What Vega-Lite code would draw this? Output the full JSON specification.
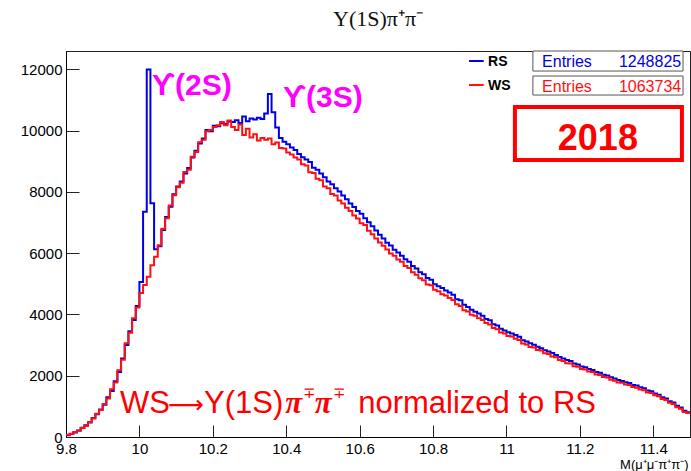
{
  "$schema": "https://vega.github.io/schema/vega-lite/v6.json",
  "width": 624,
  "height": 386,
  "autosize": {"type": "none"},
  "padding": {"left": 66, "top": 51, "right": 1, "bottom": 34},
  "background": "white",
  "config": {"view": {"stroke": "#222", "strokeWidth": 1}, "font": "Liberation Sans"},
  "title": {"text": "Υ(1S)π⁺π⁻", "font": "Liberation Serif", "fontSize": 22, "fontWeight": "normal", "color": "#111", "anchor": "middle", "baseline": "alphabetic", "offset": 3},
  "datasets": {
    "rs": [
      {"x":9.80,"y":60},{"x":9.81,"y":110},{"x":9.82,"y":150},{"x":9.83,"y":210},{"x":9.84,"y":300},{"x":9.85,"y":380},{"x":9.86,"y":470},{"x":9.87,"y":620},{"x":9.88,"y":740},{"x":9.89,"y":900},
      {"x":9.90,"y":1050},{"x":9.91,"y":1300},{"x":9.92,"y":1500},{"x":9.93,"y":1820},{"x":9.94,"y":2120},{"x":9.95,"y":2560},{"x":9.96,"y":3000},{"x":9.97,"y":3450},{"x":9.98,"y":3820},{"x":9.99,"y":4280},
      {"x":10.00,"y":5060},{"x":10.01,"y":7350},{"x":10.02,"y":12000},{"x":10.03,"y":7630},{"x":10.04,"y":6130},{"x":10.05,"y":6230},{"x":10.06,"y":6760},{"x":10.07,"y":7180},{"x":10.08,"y":7520},{"x":10.09,"y":7920},
      {"x":10.10,"y":8180},{"x":10.11,"y":8340},{"x":10.12,"y":8600},{"x":10.13,"y":8780},{"x":10.14,"y":9120},{"x":10.15,"y":9340},{"x":10.16,"y":9580},{"x":10.17,"y":9740},{"x":10.18,"y":10020},{"x":10.19,"y":9980},
      {"x":10.20,"y":10160},{"x":10.21,"y":10140},{"x":10.22,"y":10240},{"x":10.23,"y":10220},{"x":10.24,"y":10300},{"x":10.25,"y":10280},{"x":10.26,"y":10340},{"x":10.27,"y":10250},{"x":10.28,"y":10460},{"x":10.29,"y":10310},
      {"x":10.30,"y":10400},{"x":10.31,"y":10360},{"x":10.32,"y":10420},{"x":10.33,"y":10380},{"x":10.34,"y":10560},{"x":10.35,"y":11200},{"x":10.36,"y":10600},{"x":10.37,"y":10100},{"x":10.38,"y":9760},{"x":10.39,"y":9640},
      {"x":10.40,"y":9560},{"x":10.41,"y":9450},{"x":10.42,"y":9370},{"x":10.43,"y":9240},{"x":10.44,"y":9130},{"x":10.45,"y":9060},{"x":10.46,"y":8980},{"x":10.47,"y":8790},{"x":10.48,"y":8720},{"x":10.49,"y":8600},
      {"x":10.50,"y":8480},{"x":10.51,"y":8340},{"x":10.52,"y":8250},{"x":10.53,"y":8120},{"x":10.54,"y":8010},{"x":10.55,"y":7880},{"x":10.56,"y":7760},{"x":10.57,"y":7620},{"x":10.58,"y":7510},{"x":10.59,"y":7380},
      {"x":10.60,"y":7290},{"x":10.61,"y":7140},{"x":10.62,"y":7010},{"x":10.63,"y":6880},{"x":10.64,"y":6740},{"x":10.65,"y":6600},{"x":10.66,"y":6480},{"x":10.67,"y":6340},{"x":10.68,"y":6250},{"x":10.69,"y":6110},
      {"x":10.70,"y":6020},{"x":10.71,"y":5920},{"x":10.72,"y":5800},{"x":10.73,"y":5720},{"x":10.74,"y":5580},{"x":10.75,"y":5500},{"x":10.76,"y":5380},{"x":10.77,"y":5310},{"x":10.78,"y":5190},{"x":10.79,"y":5130},
      {"x":10.80,"y":4990},{"x":10.81,"y":4920},{"x":10.82,"y":4860},{"x":10.83,"y":4780},{"x":10.84,"y":4720},{"x":10.85,"y":4640},{"x":10.86,"y":4500},{"x":10.87,"y":4460},{"x":10.88,"y":4320},{"x":10.89,"y":4240},
      {"x":10.90,"y":4150},{"x":10.91,"y":4090},{"x":10.92,"y":4030},{"x":10.93,"y":3960},{"x":10.94,"y":3850},{"x":10.95,"y":3810},{"x":10.96,"y":3680},{"x":10.97,"y":3640},{"x":10.98,"y":3530},{"x":10.99,"y":3480},
      {"x":11.00,"y":3420},{"x":11.01,"y":3380},{"x":11.02,"y":3330},{"x":11.03,"y":3270},{"x":11.04,"y":3160},{"x":11.05,"y":3120},{"x":11.06,"y":3060},{"x":11.07,"y":3010},{"x":11.08,"y":2950},{"x":11.09,"y":2900},
      {"x":11.10,"y":2830},{"x":11.11,"y":2790},{"x":11.12,"y":2740},{"x":11.13,"y":2680},{"x":11.14,"y":2610},{"x":11.15,"y":2560},{"x":11.16,"y":2510},{"x":11.17,"y":2480},{"x":11.18,"y":2400},{"x":11.19,"y":2370},
      {"x":11.20,"y":2300},{"x":11.21,"y":2280},{"x":11.22,"y":2220},{"x":11.23,"y":2190},{"x":11.24,"y":2120},{"x":11.25,"y":2100},{"x":11.26,"y":2030},{"x":11.27,"y":2010},{"x":11.28,"y":1950},{"x":11.29,"y":1910},
      {"x":11.30,"y":1860},{"x":11.31,"y":1830},{"x":11.32,"y":1790},{"x":11.33,"y":1760},{"x":11.34,"y":1700},{"x":11.35,"y":1680},{"x":11.36,"y":1620},{"x":11.37,"y":1590},{"x":11.38,"y":1520},{"x":11.39,"y":1490},
      {"x":11.40,"y":1420},{"x":11.41,"y":1380},{"x":11.42,"y":1300},{"x":11.43,"y":1260},{"x":11.44,"y":1170},{"x":11.45,"y":1130},{"x":11.46,"y":1020},{"x":11.47,"y":960},{"x":11.48,"y":860},{"x":11.49,"y":810},
      {"x":11.50,"y":810}
    ],
    "ws": [
      {"x":9.80,"y":70},{"x":9.81,"y":100},{"x":9.82,"y":160},{"x":9.83,"y":200},{"x":9.84,"y":290},{"x":9.85,"y":360},{"x":9.86,"y":490},{"x":9.87,"y":600},{"x":9.88,"y":760},{"x":9.89,"y":880},
      {"x":9.90,"y":1080},{"x":9.91,"y":1260},{"x":9.92,"y":1560},{"x":9.93,"y":1780},{"x":9.94,"y":2180},{"x":9.95,"y":2520},{"x":9.96,"y":3060},{"x":9.97,"y":3400},{"x":9.98,"y":3880},{"x":9.99,"y":4230},
      {"x":10.00,"y":4700},{"x":10.01,"y":4960},{"x":10.02,"y":5230},{"x":10.03,"y":5610},{"x":10.04,"y":5880},{"x":10.05,"y":6260},{"x":10.06,"y":6800},{"x":10.07,"y":7140},{"x":10.08,"y":7560},{"x":10.09,"y":7890},
      {"x":10.10,"y":8150},{"x":10.11,"y":8300},{"x":10.12,"y":8650},{"x":10.13,"y":8720},{"x":10.14,"y":9150},{"x":10.15,"y":9300},{"x":10.16,"y":9620},{"x":10.17,"y":9700},{"x":10.18,"y":9980},{"x":10.19,"y":10020},
      {"x":10.20,"y":10120},{"x":10.21,"y":10180},{"x":10.22,"y":10280},{"x":10.23,"y":10180},{"x":10.24,"y":10330},{"x":10.25,"y":10120},{"x":10.26,"y":10020},{"x":10.27,"y":10200},{"x":10.28,"y":9860},{"x":10.29,"y":10060},
      {"x":10.30,"y":9780},{"x":10.31,"y":9880},{"x":10.32,"y":9680},{"x":10.33,"y":9760},{"x":10.34,"y":9700},{"x":10.35,"y":9740},{"x":10.36,"y":9560},{"x":10.37,"y":9610},{"x":10.38,"y":9430},{"x":10.39,"y":9420},
      {"x":10.40,"y":9290},{"x":10.41,"y":9220},{"x":10.42,"y":9120},{"x":10.43,"y":9060},{"x":10.44,"y":8900},{"x":10.45,"y":8860},{"x":10.46,"y":8640},{"x":10.47,"y":8620},{"x":10.48,"y":8430},{"x":10.49,"y":8380},
      {"x":10.50,"y":8180},{"x":10.51,"y":8120},{"x":10.52,"y":7930},{"x":10.53,"y":7880},{"x":10.54,"y":7720},{"x":10.55,"y":7620},{"x":10.56,"y":7480},{"x":10.57,"y":7380},{"x":10.58,"y":7230},{"x":10.59,"y":7130},
      {"x":10.60,"y":6980},{"x":10.61,"y":6920},{"x":10.62,"y":6730},{"x":10.63,"y":6620},{"x":10.64,"y":6480},{"x":10.65,"y":6350},{"x":10.66,"y":6240},{"x":10.67,"y":6120},{"x":10.68,"y":5990},{"x":10.69,"y":5920},
      {"x":10.70,"y":5790},{"x":10.71,"y":5720},{"x":10.72,"y":5580},{"x":10.73,"y":5520},{"x":10.74,"y":5380},{"x":10.75,"y":5300},{"x":10.76,"y":5180},{"x":10.77,"y":5120},{"x":10.78,"y":4980},{"x":10.79,"y":4950},
      {"x":10.80,"y":4810},{"x":10.81,"y":4760},{"x":10.82,"y":4660},{"x":10.83,"y":4620},{"x":10.84,"y":4540},{"x":10.85,"y":4470},{"x":10.86,"y":4330},{"x":10.87,"y":4280},{"x":10.88,"y":4140},{"x":10.89,"y":4100},
      {"x":10.90,"y":3990},{"x":10.91,"y":3960},{"x":10.92,"y":3880},{"x":10.93,"y":3820},{"x":10.94,"y":3720},{"x":10.95,"y":3670},{"x":10.96,"y":3560},{"x":10.97,"y":3520},{"x":10.98,"y":3410},{"x":10.99,"y":3380},
      {"x":11.00,"y":3300},{"x":11.01,"y":3280},{"x":11.02,"y":3210},{"x":11.03,"y":3170},{"x":11.04,"y":3050},{"x":11.05,"y":3020},{"x":11.06,"y":2940},{"x":11.07,"y":2920},{"x":11.08,"y":2840},{"x":11.09,"y":2820},
      {"x":11.10,"y":2730},{"x":11.11,"y":2710},{"x":11.12,"y":2630},{"x":11.13,"y":2600},{"x":11.14,"y":2510},{"x":11.15,"y":2480},{"x":11.16,"y":2410},{"x":11.17,"y":2400},{"x":11.18,"y":2310},{"x":11.19,"y":2290},
      {"x":11.20,"y":2220},{"x":11.21,"y":2200},{"x":11.22,"y":2140},{"x":11.23,"y":2120},{"x":11.24,"y":2040},{"x":11.25,"y":2020},{"x":11.26,"y":1960},{"x":11.27,"y":1940},{"x":11.28,"y":1870},{"x":11.29,"y":1840},
      {"x":11.30,"y":1780},{"x":11.31,"y":1770},{"x":11.32,"y":1710},{"x":11.33,"y":1700},{"x":11.34,"y":1630},{"x":11.35,"y":1610},{"x":11.36,"y":1550},{"x":11.37,"y":1530},{"x":11.38,"y":1450},{"x":11.39,"y":1440},
      {"x":11.40,"y":1360},{"x":11.41,"y":1330},{"x":11.42,"y":1240},{"x":11.43,"y":1210},{"x":11.44,"y":1120},{"x":11.45,"y":1080},{"x":11.46,"y":970},{"x":11.47,"y":920},{"x":11.48,"y":820},{"x":11.49,"y":780},
      {"x":11.50,"y":780}
    ]
  },
  "layer": [
    {
      "data": {"name": "rs"},
      "mark": {"type": "line", "interpolate": "step-after", "color": "#0000e6", "strokeWidth": 2},
      "encoding": {
        "x": {"field": "x", "type": "quantitative",
          "scale": {"domain": [9.8, 11.5], "nice": false, "zero": false},
          "axis": {
            "values": [9.8,9.85,9.9,9.95,10,10.05,10.1,10.15,10.2,10.25,10.3,10.35,10.4,10.45,10.5,10.55,10.6,10.65,10.7,10.75,10.8,10.85,10.9,10.95,11,11.05,11.1,11.15,11.2,11.25,11.3,11.35,11.4,11.45,11.5],
            "labelExpr": "abs(datum.value*5 - round(datum.value*5)) < 0.001 ? format(datum.value, '~g') : ''",
            "tickSize": {"condition": {"test": "abs(datum.value*5 - round(datum.value*5)) < 0.001", "value": -12}, "value": -6},
            "grid": false, "domainColor": "#000", "tickColor": "#222", "labelColor": "#000",
            "labelFontSize": 15, "labelPadding": 16, "labelOverlap": false, "labelFlush": false,
            "title": "M(μ⁺μ⁻π⁺π⁻)", "titleAnchor": "end", "titleAlign": "right", "titleX": 622, "titleFontSize": 13, "titleFontWeight": "normal",
            "titleColor": "#000", "titleBaseline": "alphabetic", "titleY": 31
          }
        },
        "y": {"field": "y", "type": "quantitative",
          "scale": {"domain": [0, 12600], "nice": false, "zero": true},
          "axis": {
            "values": [0,500,1000,1500,2000,2500,3000,3500,4000,4500,5000,5500,6000,6500,7000,7500,8000,8500,9000,9500,10000,10500,11000,11500,12000,12500],
            "labelExpr": "datum.value % 2000 === 0 ? format(datum.value, 'd') : ''",
            "tickSize": {"condition": {"test": "datum.value % 2000 === 0", "value": -13}, "value": -7},
            "grid": false, "domainColor": "#000", "tickColor": "#222", "labelColor": "#000",
            "labelFontSize": 15, "labelPadding": 17, "labelOverlap": false, "labelFlush": false,
            "title": null
          }
        }
      }
    },
    {
      "data": {"name": "ws"},
      "mark": {"type": "line", "interpolate": "step-after", "color": "#ff1010", "strokeWidth": 2},
      "encoding": {
        "x": {"field": "x", "type": "quantitative"},
        "y": {"field": "y", "type": "quantitative"}
      }
    },
    {
      "data": {"values": [{}]},
      "mark": {"type": "text", "align": "left", "baseline": "alphabetic", "font": "Liberation Sans", "fontWeight": "bold", "fontSize": 30, "color": "#ff00ff", "text": "ϒ(2S)"},
      "encoding": {"x": {"datum": 10.034, "type": "quantitative"}, "y": {"datum": 11163, "type": "quantitative"}}
    },
    {
      "data": {"values": [{}]},
      "mark": {"type": "text", "align": "left", "baseline": "alphabetic", "font": "Liberation Sans", "fontWeight": "bold", "fontSize": 30, "color": "#ff00ff", "text": "ϒ(3S)"},
      "encoding": {"x": {"datum": 10.391, "type": "quantitative"}, "y": {"datum": 10771, "type": "quantitative"}}
    },
    {
      "data": {"values": [{}]},
      "mark": {"type": "rect", "fill": "white", "stroke": "#ff0000", "strokeWidth": 4},
      "encoding": {"x": {"datum": 11.023, "type": "quantitative"}, "x2": {"datum": 11.478}, "y": {"datum": 10771, "type": "quantitative"}, "y2": {"datum": 9041}}
    },
    {
      "data": {"values": [{}]},
      "mark": {"type": "text", "align": "center", "baseline": "alphabetic", "font": "Liberation Sans", "fontWeight": "bold", "fontSize": 36, "color": "#ff0000", "text": "2018"},
      "encoding": {"x": {"datum": 11.249, "type": "quantitative"}, "y": {"datum": 9368, "type": "quantitative"}}
    },
    {
      "data": {"values": [{}]},
      "mark": {"type": "rule", "color": "#0000e6", "strokeWidth": 2},
      "encoding": {"x": {"datum": 10.898, "type": "quantitative"}, "x2": {"datum": 10.938}, "y": {"datum": 12273, "type": "quantitative"}}
    },
    {
      "data": {"values": [{}]},
      "mark": {"type": "rule", "color": "#ff1010", "strokeWidth": 2},
      "encoding": {"x": {"datum": 10.898, "type": "quantitative"}, "x2": {"datum": 10.938}, "y": {"datum": 11489, "type": "quantitative"}}
    },
    {
      "data": {"values": [{}]},
      "mark": {"type": "text", "align": "left", "baseline": "alphabetic", "font": "Liberation Sans", "fontWeight": "bold", "fontSize": 14, "color": "#000", "text": "RS"},
      "encoding": {"x": {"datum": 10.950, "type": "quantitative"}, "y": {"datum": 12109, "type": "quantitative"}}
    },
    {
      "data": {"values": [{}]},
      "mark": {"type": "text", "align": "left", "baseline": "alphabetic", "font": "Liberation Sans", "fontWeight": "bold", "fontSize": 14, "color": "#000", "text": "WS"},
      "encoding": {"x": {"datum": 10.950, "type": "quantitative"}, "y": {"datum": 11326, "type": "quantitative"}}
    },
    {
      "data": {"values": [{}]},
      "mark": {"type": "rect", "fill": "white", "stroke": "#555", "strokeWidth": 1},
      "encoding": {"x": {"datum": 11.072, "type": "quantitative"}, "x2": {"datum": 11.481}, "y": {"datum": 12600, "type": "quantitative"}, "y2": {"datum": 11946}}
    },
    {
      "data": {"values": [{}]},
      "mark": {"type": "rect", "fill": "white", "stroke": "#555", "strokeWidth": 1},
      "encoding": {"x": {"datum": 11.072, "type": "quantitative"}, "x2": {"datum": 11.481}, "y": {"datum": 11783, "type": "quantitative"}, "y2": {"datum": 11163}}
    },
    {
      "data": {"values": [{}]},
      "mark": {"type": "text", "align": "left", "baseline": "alphabetic", "font": "Liberation Sans", "fontSize": 16, "color": "#0000e6", "text": "Entries"},
      "encoding": {"x": {"datum": 11.097, "type": "quantitative"}, "y": {"datum": 12067, "type": "quantitative"}}
    },
    {
      "data": {"values": [{}]},
      "mark": {"type": "text", "align": "right", "baseline": "alphabetic", "font": "Liberation Sans", "fontSize": 16, "color": "#0000e6", "text": "1248825"},
      "encoding": {"x": {"datum": 11.476, "type": "quantitative"}, "y": {"datum": 12067, "type": "quantitative"}}
    },
    {
      "data": {"values": [{}]},
      "mark": {"type": "text", "align": "left", "baseline": "alphabetic", "font": "Liberation Sans", "fontSize": 16, "color": "#ff1010", "text": "Entries"},
      "encoding": {"x": {"datum": 11.097, "type": "quantitative"}, "y": {"datum": 11271, "type": "quantitative"}}
    },
    {
      "data": {"values": [{}]},
      "mark": {"type": "text", "align": "right", "baseline": "alphabetic", "font": "Liberation Sans", "fontSize": 16, "color": "#ff1010", "text": "1063734"},
      "encoding": {"x": {"datum": 11.476, "type": "quantitative"}, "y": {"datum": 11271, "type": "quantitative"}}
    },
    {
      "data": {"values": [{}]},
      "mark": {"type": "text", "align": "left", "baseline": "alphabetic", "font": "Liberation Sans", "fontSize": 31, "color": "#ff0000", "text": "WS"},
      "encoding": {"x": {"datum": 9.947, "type": "quantitative"}, "y": {"datum": 783, "type": "quantitative"}}
    },
    {
      "data": {"values": [{}]},
      "mark": {"type": "text", "align": "center", "baseline": "alphabetic", "font": "DejaVu Sans", "fontSize": 25, "color": "#ff0000", "text": "⟶"},
      "encoding": {"x": {"datum": 10.126, "type": "quantitative"}, "y": {"datum": 783, "type": "quantitative"}}
    },
    {
      "data": {"values": [{}]},
      "mark": {"type": "text", "align": "right", "baseline": "alphabetic", "font": "Liberation Sans", "fontSize": 31, "color": "#ff0000", "text": "Y(1S)"},
      "encoding": {"x": {"datum": 10.392, "type": "quantitative"}, "y": {"datum": 783, "type": "quantitative"}}
    },
    {
      "data": {"values": [{}]},
      "mark": {"type": "text", "align": "left", "baseline": "alphabetic", "font": "Liberation Serif", "fontWeight": "bold", "fontStyle": "italic", "fontSize": 31, "color": "#ff0000", "text": "π"},
      "encoding": {"x": {"datum": 10.397, "type": "quantitative"}, "y": {"datum": 783, "type": "quantitative"}}
    },
    {
      "data": {"values": [{}]},
      "mark": {"type": "text", "align": "left", "baseline": "alphabetic", "font": "Liberation Sans", "fontSize": 15, "color": "#ff0000", "text": "∓"},
      "encoding": {"x": {"datum": 10.446, "type": "quantitative"}, "y": {"datum": 1273, "type": "quantitative"}}
    },
    {
      "data": {"values": [{}]},
      "mark": {"type": "text", "align": "left", "baseline": "alphabetic", "font": "Liberation Serif", "fontWeight": "bold", "fontStyle": "italic", "fontSize": 31, "color": "#ff0000", "text": "π"},
      "encoding": {"x": {"datum": 10.478, "type": "quantitative"}, "y": {"datum": 783, "type": "quantitative"}}
    },
    {
      "data": {"values": [{}]},
      "mark": {"type": "text", "align": "left", "baseline": "alphabetic", "font": "Liberation Sans", "fontSize": 15, "color": "#ff0000", "text": "∓"},
      "encoding": {"x": {"datum": 10.527, "type": "quantitative"}, "y": {"datum": 1273, "type": "quantitative"}}
    },
    {
      "data": {"values": [{}]},
      "mark": {"type": "text", "align": "left", "baseline": "alphabetic", "font": "Liberation Sans", "fontSize": 31, "color": "#ff0000", "text": "normalized to RS"},
      "encoding": {"x": {"datum": 10.596, "type": "quantitative"}, "y": {"datum": 783, "type": "quantitative"}}
    }
  ]
}
